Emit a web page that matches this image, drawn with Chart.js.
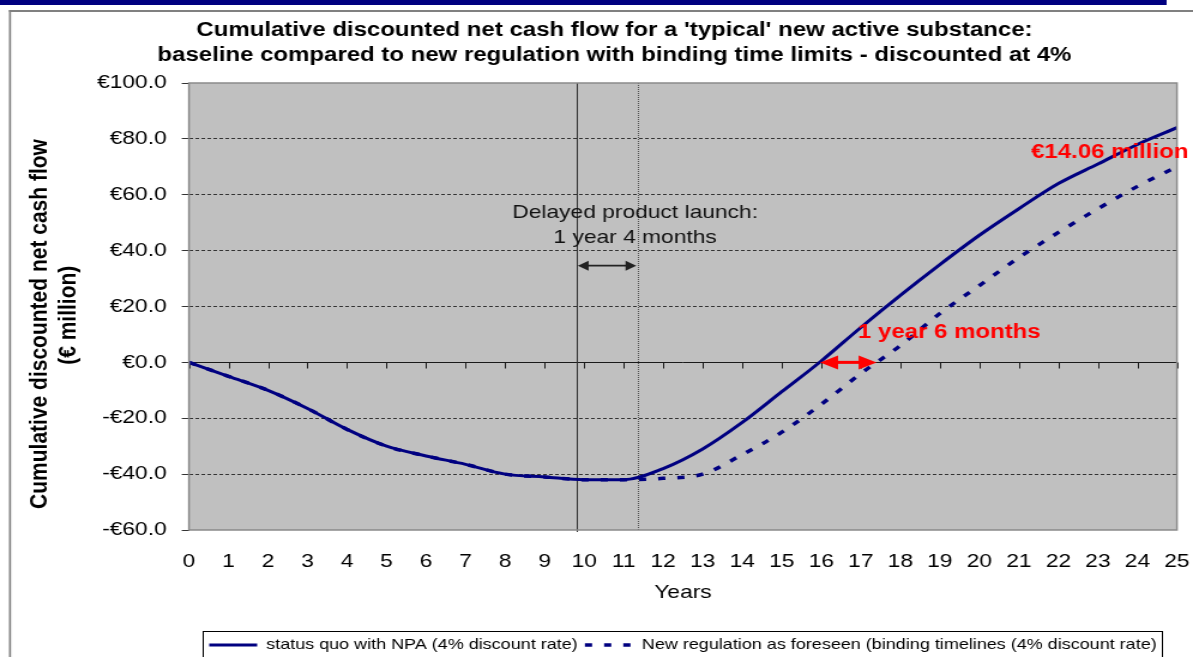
<!DOCTYPE html>
<html>
<head>
<meta charset="utf-8">
<script src="https://cdn.jsdelivr.net/npm/chart.js@4.4.1/dist/chart.umd.min.js"></script>
<style>
    html, body { margin: 0; padding: 0; background: #fff; overflow: hidden; }
    /* the source picture is stretched sideways, so the chart is drawn narrower and widened */
    #wrap { position: absolute; left: 0; top: 0; width: 995px; height: 670px; transform: scaleX(1.199); transform-origin: 0 0; }
</style>
</head>
<body>
<div id="wrap"><canvas id="cashChart"></canvas></div>
<script>
const years = [0, 1, 2, 3, 4, 5, 6, 7, 8, 9, 10, 11, 12, 13, 14, 15, 16, 17, 18, 19, 20, 21, 22, 23, 24, 25];
const statusQuo = [0, -5, -10, -16.5, -24, -30, -33.5, -36.5, -40, -41, -42, -42, -38, -31, -21.5, -10.5, 0.5, 12.5, 24, 35, 45.5, 55, 64, 71, 78, 84];
const newRegulation = [0, -5, -10, -16.5, -24, -30, -33.5, -36.5, -40, -41, -42, -42, -41.5, -40, -33, -25, -15, -4, 6, 17.5, 27.5, 37.5, 46.5, 55, 63, 70];

const seriesNames = [
    "status quo with NPA (4% discount rate)",
    "New regulation as foreseen (binding timelines (4% discount rate)",
];
const chartTitle = [
    "Cumulative discounted net cash flow for a 'typical' new active substance:",
    "baseline compared to new regulation with binding time limits - discounted at 4%",
];
const yAxisTitle = ["Cumulative discounted net cash flow      ", "(\u20ac million)   "];
const xAxisTitle = "Years";
const yMin = -60;
const yMax = 100;
const yStep = 20;

// annotation anchors, in data units (years / € million)
const launchBaseline = 9.81;
const launchDelayed = 11.35;
const launchArrowAt = 34.6;
const breakEvenBaseline = 15.97;
const breakEvenDelayed = 17.4;
const launchNote = [
    { text: "Delayed product launch:", x: 11.29, y: 53.5 },
    { text: "1 year 4 months", x: 11.29, y: 44.6 },
];
const redNotes = [
    { text: "1 year 6 months", x: 16.93, y: 10.7 },
    { text: "\u20ac14.06 million", x: 21.31, y: 75.3 },
];

const NAVY = "#000080";
const FONT = "'Liberation Sans', Arial, sans-serif";
Chart.defaults.font.family = FONT;
Chart.defaults.color = "#000";

function euro(v) {
    return (v < 0 ? "-\u20ac" : "\u20ac") + Math.abs(v).toFixed(1);
}

function arrow(ctx, x1, x2, yy, head, half) {
    ctx.beginPath();
    ctx.moveTo(x1 + head * 0.8, yy);
    ctx.lineTo(x2 - head * 0.8, yy);
    ctx.stroke();
    ctx.beginPath();
    ctx.moveTo(x1, yy);
    ctx.lineTo(x1 + head, yy - half);
    ctx.lineTo(x1 + head, yy + half);
    ctx.closePath();
    ctx.moveTo(x2, yy);
    ctx.lineTo(x2 - head, yy - half);
    ctx.lineTo(x2 - head, yy + half);
    ctx.closePath();
    ctx.fill();
}

const decorations = {
    id: "decorations",
    beforeDraw(chart) {
        const { ctx, chartArea: a } = chart;
        ctx.save();
        ctx.fillStyle = "#fff";
        ctx.fillRect(0, 0, chart.width, chart.height);
        ctx.fillStyle = NAVY;
        ctx.fillRect(0, 0, 973, 5);
        ctx.fillStyle = "#808080";
        ctx.fillRect(7.5, 10, chart.width, 2);
        ctx.fillRect(7.5, 10, 1.7, chart.height);
        ctx.fillStyle = "#c0c0c0";
        ctx.fillRect(a.left, a.top, a.width, a.height);
        ctx.restore();
    },
    beforeDatasetsDraw(chart) {
        const { ctx, chartArea: a, scales } = chart;
        const x = scales.x;
        const y0 = Math.round(scales.y.getPixelForValue(0)) + 0.5;
        ctx.save();
        ctx.strokeStyle = "#1a1a1a";
        ctx.lineWidth = 1;
        ctx.beginPath();
        ctx.moveTo(a.left, y0);
        ctx.lineTo(a.right, y0);
        x.ticks.forEach((t) => {
            const px = Math.round(x.getPixelForValue(t.value)) + 0.5;
            ctx.moveTo(px, y0);
            ctx.lineTo(px, y0 + 6);
        });
        ctx.stroke();

        let px = Math.round(x.getPixelForValue(launchBaseline)) + 0.5;
        ctx.strokeStyle = "#333";
        ctx.beginPath();
        ctx.moveTo(px, a.top);
        ctx.lineTo(px, a.bottom + 2);
        ctx.stroke();

        px = Math.round(x.getPixelForValue(launchDelayed)) + 0.5;
        ctx.strokeStyle = "#555";
        ctx.setLineDash([1, 1]);
        ctx.beginPath();
        ctx.moveTo(px, a.top);
        ctx.lineTo(px, a.bottom);
        ctx.stroke();
        ctx.restore();
    },
    afterDatasetsDraw(chart) {
        const { ctx, chartArea: a, scales } = chart;
        const x = scales.x;
        const y = scales.y;
        ctx.save();
        ctx.strokeStyle = "#8a8a8a";
        ctx.lineWidth = 1.5;
        ctx.strokeRect(a.left, a.top, a.width, a.height);

        ctx.strokeStyle = "#222";
        ctx.fillStyle = "#222";
        ctx.lineWidth = 1.7;
        arrow(ctx, x.getPixelForValue(launchBaseline) + 1, x.getPixelForValue(launchDelayed) - 1,
            y.getPixelForValue(launchArrowAt), 9, 5);

        ctx.strokeStyle = "#ff0000";
        ctx.fillStyle = "#ff0000";
        ctx.lineWidth = 3;
        arrow(ctx, x.getPixelForValue(breakEvenBaseline), x.getPixelForValue(breakEvenDelayed),
            y.getPixelForValue(0), 15, 7);

        ctx.textBaseline = "middle";
        ctx.textAlign = "center";
        ctx.fillStyle = "#111";
        ctx.font = "19px " + FONT;
        launchNote.forEach((n) => {
            ctx.fillText(n.text, x.getPixelForValue(n.x), y.getPixelForValue(n.y));
        });

        ctx.textAlign = "left";
        ctx.fillStyle = "#ff0000";
        ctx.font = "bold 20px " + FONT;
        redNotes.forEach((n) => {
            ctx.fillText(n.text, x.getPixelForValue(n.x), y.getPixelForValue(n.y));
        });
        ctx.restore();
    },
    afterDraw(chart) {
        const boxes = chart.legend.legendHitBoxes;
        if (!boxes || !boxes.length) return;
        const first = boxes[0];
        const last = boxes[boxes.length - 1];
        const { ctx } = chart;
        ctx.save();
        ctx.strokeStyle = "#000";
        ctx.lineWidth = 1;
        ctx.strokeRect(Math.round(first.left - 5) + 0.5, Math.round(first.top - 7) + 0.5,
            Math.round(last.left + last.width - first.left + 10), 40);
        ctx.restore();
    },
};

const cashCanvas = document.getElementById("cashChart");

const cashChart = new Chart(cashCanvas, {
    type: "line",
    data: {
        datasets: [
            {
                label: seriesNames[0],
                data: years.map((yr, i) => ({ x: yr, y: statusQuo[i] })),
                borderColor: NAVY,
                borderWidth: 3,
                pointRadius: 0,
                cubicInterpolationMode: "monotone",
                fill: false,
            },
            {
                label: seriesNames[1],
                data: years.map((yr, i) => ({ x: yr, y: newRegulation[i] })),
                borderColor: NAVY,
                borderWidth: 3.5,
                borderDash: [6, 10],
                borderCapStyle: "butt",
                pointRadius: 0,
                cubicInterpolationMode: "monotone",
                fill: false,
            },
        ],
    },
    options: {
        responsive: true,
        maintainAspectRatio: false,
        animation: false,
        events: [],
        layout: {
            padding: { left: 30, right: 0, top: 0, bottom: 7.5 },
        },
        plugins: {
            title: {
                display: true,
                text: chartTitle,
                color: "#000",
                font: { size: 20, weight: "bold", lineHeight: 1.25 },
                padding: { top: 18, bottom: 15 },
            },
            legend: {
                display: true,
                position: "bottom",
                fullSize: false,
                labels: {
                    usePointStyle: true,
                    pointStyle: "line",
                    pointStyleWidth: 40,
                    padding: 6,
                    color: "#000",
                    font: { size: 15 },
                    // point-style items take the point's look, so copy the line's dash back in
                    generateLabels: (chart) =>
                        Chart.defaults.plugins.legend.labels.generateLabels(chart).map((item, i) => {
                            const ds = chart.data.datasets[i];
                            item.lineDash = ds.borderDash || [];
                            item.lineWidth = ds.borderWidth;
                            item.strokeStyle = ds.borderColor;
                            item.lineCap = "butt";
                            return item;
                        }),
                },
            },
            tooltip: { enabled: false },
        },
        scales: {
            x: {
                type: "linear",
                min: 0,
                max: 25,
                afterFit: (scale) => {
                    scale.height = 101.5;
                    scale.paddingRight = 13.4;
                },
                grid: { display: false, drawTicks: false },
                border: { display: false },
                ticks: {
                    stepSize: 1,
                    autoSkip: false,
                    maxRotation: 0,
                    padding: 20,
                    color: "#000",
                    font: { size: 19 },
                },
                title: {
                    display: true,
                    text: xAxisTitle,
                    color: "#000",
                    font: { size: 19 },
                    padding: { top: 0, bottom: 27 },
                },
            },
            y: {
                min: yMin,
                max: yMax,
                afterFit: (scale) => {
                    scale.width = 127.6;
                },
                grid: {
                    color: (c) => (c.tick && (c.tick.value === 0 || c.tick.value === yMin || c.tick.value === yMax)
                        ? "rgba(0,0,0,0)" : "#333"),
                    lineWidth: 1,
                    tickColor: "#333",
                    tickLength: 6,
                },
                border: { display: false, dash: [3, 2] },
                ticks: {
                    stepSize: yStep,
                    padding: 12.6,
                    color: "#000",
                    font: { size: 19 },
                    callback: (v) => euro(v),
                },
                title: {
                    display: true,
                    text: yAxisTitle,
                    color: "#000",
                    font: { size: 21, weight: "bold", lineHeight: 1.15 },
                    padding: { top: -8.7, bottom: 0 },
                },
            },
        },
    },
    plugins: [decorations],
});
</script>
</body>
</html>
